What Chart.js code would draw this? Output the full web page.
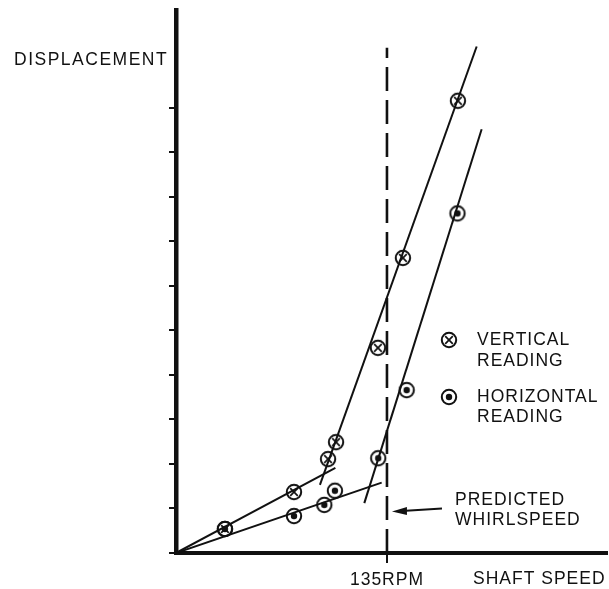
<!DOCTYPE html>
<html><head><meta charset="utf-8">
<script src="https://cdn.jsdelivr.net/npm/chart.js@4/dist/chart.umd.min.js"></script>
<style>html,body{margin:0;padding:0;background:#fff}canvas{display:block}</style>
</head><body>
<canvas id="c" width="609" height="589" style="width:609px;height:589px"></canvas>
<script>
// ---- data (x: shaft speed in RPM, y: displacement in tick units) ----
const verticalReading = [{x:31.3,y:0.54},{x:75.5,y:1.37},{x:97.3,y:2.11},{x:102.4,y:2.49},{x:129.2,y:4.61},{x:145.2,y:6.63},{x:180.4,y:10.16}];
const horizontalReading = [{x:31.3,y:0.54},{x:75.5,y:0.83},{x:94.9,y:1.08},{x:101.7,y:1.40},{x:129.4,y:2.13},{x:147.6,y:3.66},{x:180.1,y:7.63}];
const verticalLowFit = [{x:0,y:0},{x:102,y:1.91}];
const verticalHighFit = [{x:92.1,y:1.53},{x:192.4,y:11.38}];
const horizontalLowFit = [{x:0,y:0},{x:131.6,y:1.58}];
const horizontalHighFit = [{x:120.5,y:1.12},{x:195.6,y:9.52}];
const whirlSpeedLine = [{x:135,y:0},{x:135,y:11.35}];
const xTickValues = [135];
const xTickLabels = ['135RPM'];
const yTickValues = [0,1,2,3,4,5,6,7,8,9,10];
const legendLabels = [['VERTICAL','READING'],['HORIZONTAL','READING']];
const axisTitles = {x:'SHAFT SPEED', y:'DISPLACEMENT'};
const annotationLines = ['PREDICTED','WHIRLSPEED'];

const FONT_FAMILY = '"Liberation Sans", Arial, Helvetica, sans-serif';
const FONT_SIZE = 17.5;
const INK = '#111';
const PLOT_RIGHT = 607;

function makeMarker(kind){
  const c = document.createElement('canvas');
  c.width = 20; c.height = 20;
  const g = c.getContext('2d');
  g.strokeStyle = INK; g.fillStyle = INK; g.lineWidth = 2;
  g.beginPath(); g.arc(10,10,7.2,0,Math.PI*2); g.stroke();
  if (kind === 'x') {
    g.lineWidth = 1.7;
    g.beginPath();
    g.moveTo(6.2,6.2); g.lineTo(13.8,13.8);
    g.moveTo(13.8,6.2); g.lineTo(6.2,13.8);
    g.stroke();
  } else {
    g.beginPath(); g.arc(10,10,3.2,0,Math.PI*2); g.fill();
  }
  return c;
}
const markX = makeMarker('x');
const markDot = makeMarker('dot');

const lineDs = (data, extra) => Object.assign({
  data, showLine:true, borderColor:INK, borderWidth:2, pointRadius:0,
  pointHoverRadius:0, fill:false, order:2
}, extra||{});

// stretch the plot area to the right edge used by the original figure
const areaPlugin = {
  id:'areaPlugin',
  afterLayout(chart){
    const xs = chart.scales.x;
    xs.right = PLOT_RIGHT;
    xs.width = xs.right - xs.left;
    xs.configure();
    chart.chartArea.right = PLOT_RIGHT;
    chart.chartArea.width = PLOT_RIGHT - chart.chartArea.left;
  }
};

const textPlugin = {
  id:'textPlugin',
  beforeDraw(chart){ chart.ctx.letterSpacing = '1px'; },
  afterDraw(chart){
    const ctx = chart.ctx;
    const xs = chart.scales.x, ys = chart.scales.y;
    ctx.save();
    ctx.font = FONT_SIZE + 'px ' + FONT_FAMILY;
    ctx.fillStyle = INK;
    ctx.textBaseline = 'middle';
    ctx.textAlign = 'left';
    // axis titles
    ctx.letterSpacing = '1.5px';
    ctx.fillText(axisTitles.y, 14, 60);
    ctx.letterSpacing = '1px';
    ctx.fillText(axisTitles.x, 473, 579);
    // legend
    ctx.drawImage(markX, 449-10, 340-10);
    ctx.fillText(legendLabels[0][0], 477, 340);
    ctx.fillText(legendLabels[0][1], 477, 361);
    ctx.drawImage(markDot, 449-10, 397-10);
    ctx.fillText(legendLabels[1][0], 477, 397);
    ctx.fillText(legendLabels[1][1], 477, 417);
    // annotation
    ctx.fillText(annotationLines[0], 455, 500);
    ctx.fillText(annotationLines[1], 455, 520);
    // arrow pointing at whirl speed line
    const tipX = xs.getPixelForValue(135) + 5;
    const tipY = ys.getPixelForValue(0.93);
    const tailX = 442, tailY = tipY - 3;
    ctx.strokeStyle = INK; ctx.lineWidth = 2;
    ctx.beginPath(); ctx.moveTo(tailX, tailY); ctx.lineTo(tipX + 10, tipY - 0.6); ctx.stroke();
    ctx.beginPath();
    ctx.moveTo(tipX, tipY);
    ctx.lineTo(tipX + 15, tipY - 4.5);
    ctx.lineTo(tipX + 15, tipY + 3.5);
    ctx.closePath(); ctx.fill();
    ctx.restore();
  }
};

new Chart(document.getElementById('c'), {
  type:'scatter',
  data:{
    datasets:[
      lineDs(verticalLowFit),
      lineDs(verticalHighFit),
      lineDs(horizontalLowFit),
      lineDs(horizontalHighFit),
      lineDs(whirlSpeedLine, {borderDash:[24,9], borderWidth:2.6}),
      {data:verticalReading, pointStyle:markX, pointRadius:7, pointHoverRadius:7, order:1},
      {data:horizontalReading, pointStyle:markDot, pointRadius:7, pointHoverRadius:7, order:0}
    ]
  },
  options:{
    responsive:false,
    animation:false,
    devicePixelRatio:1,
    layout:{padding:{top:10, right:2, left:0, bottom:0}},
    plugins:{legend:{display:false}, tooltip:{enabled:false}},
    scales:{
      x:{
        type:'linear', position:'bottom', min:0, max:275.8,
        afterBuildTicks(s){ s.ticks = xTickValues.map(v=>({value:v})); },
        afterFit(s){ s.height = 36; s.paddingLeft = 0; s.paddingRight = 0; },
        ticks:{
          autoSkip:false, maxRotation:0, padding:7, color:INK,
          font:{family:FONT_FAMILY, size:FONT_SIZE},
          callback(v){ const i = xTickValues.indexOf(v); return i>=0 ? xTickLabels[i] : ''; }
        },
        grid:{drawOnChartArea:false, drawTicks:true, tickLength:10, color:INK, lineWidth:2},
        border:{display:true, color:INK, width:4}
      },
      y:{
        type:'linear', position:'left', min:0, max:12.2,
        afterBuildTicks(s){ s.ticks = yTickValues.map(v=>({value:v})); },
        afterFit(s){ s.width = 176; s.paddingTop = 0; s.paddingBottom = 0; },
        ticks:{display:false},
        grid:{drawOnChartArea:false, drawTicks:true, tickLength:7, color:INK, lineWidth:2},
        border:{display:true, color:INK, width:4.5}
      }
    }
  },
  plugins:[areaPlugin, textPlugin]
});
</script>
</body></html>
